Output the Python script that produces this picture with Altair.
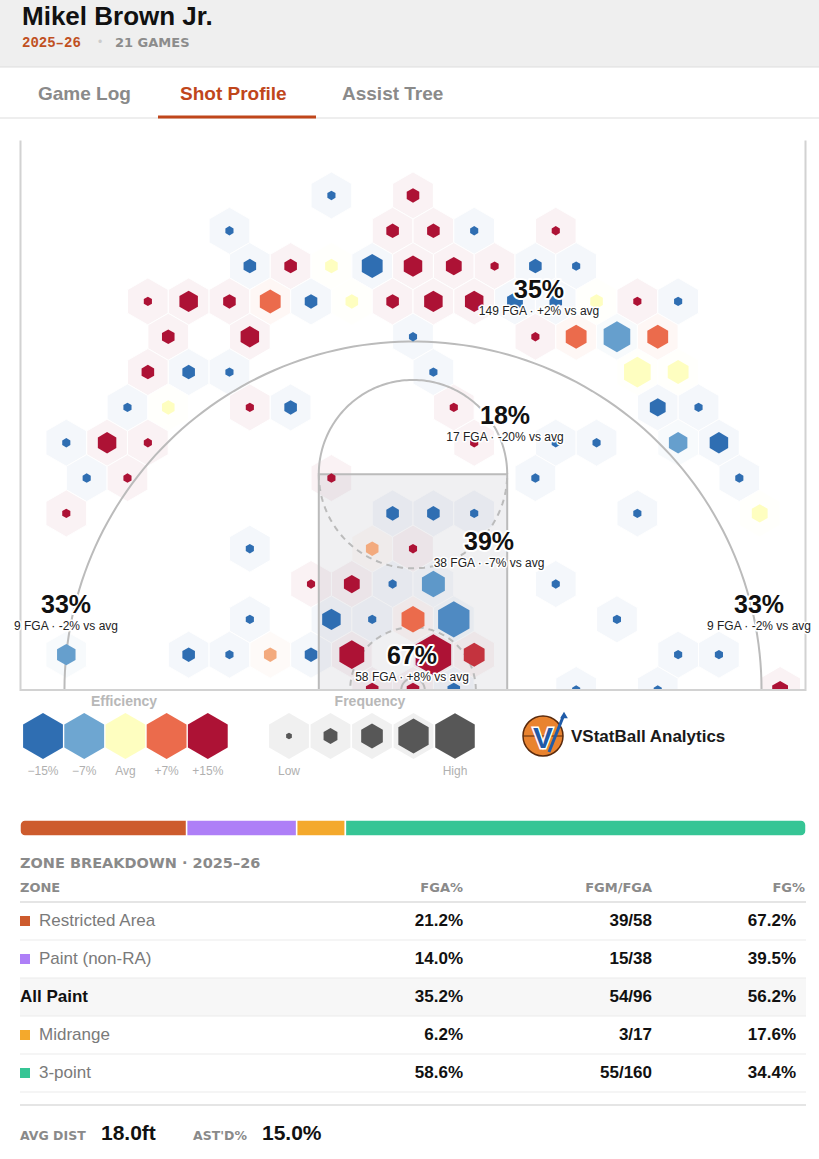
import altair as alt
import numpy as np
import pandas as pd

W, H = 819, 1159
SANS, WIDE, MONO = "Liberation Sans", "DejaVu Sans", "Liberation Mono"

# ---------------- values ----------------
player_name = "Mikel Brown Jr."
season_label = "2025–26"
games_played = 21
tab_labels = ["Game Log", "Shot Profile", "Assist Tree"]
active_tab = "Shot Profile"

# hex bins (1.5 ft hexes, basket at origin): grid row, grid column,
# FG% minus league average (pct points), FGA in the bin
hex_row = [
    14, 14,
    13, 13, 13, 13, 13,
    12, 12, 12, 12, 12, 12, 12, 12, 12,
    11, 11, 11, 11, 11, 11, 11, 11, 11, 11, 11, 11, 11, 11,
    10, 10, 10, 10, 10, 10, 10,
    9, 9, 9, 9, 9, 9,
    8, 8, 8, 8, 8, 8, 8,
    7, 7, 7, 7, 7, 7, 7, 7,
    6, 6, 6, 6, 6,
    5, 5, 5, 5, 5, 5,
    4, 4, 4,
    3, 3, 3, 3, 3,
    2, 2, 2, 2, 2, 2,
    1, 1, 1, 1, 1, 1, 1, 1, 1, 1,
    0, 0, 0, 0, 0, 0]
hex_col = [
    -2, 0,
    -5, -1, 0, 1, 3,
    -4, -3, -2, -1, 0, 1, 2, 3, 4,
    -7, -6, -5, -4, -3, -2, -1, 0, 1, 2, 3, 4, 5, 6,
    -6, -4, 0, 3, 4, 5, 6,
    -7, -6, -5, 0, 5, 6,
    -7, -6, -4, -3, 1, 6, 7,
    -9, -8, -7, 1, 3, 4, 6, 7,
    -8, -7, -2, 3, 8,
    -9, -1, 0, 1, 5, 8,
    -4, -1, 0,
    -3, -2, -1, 0, 3,
    -4, -2, -1, 0, 1, 5,
    -9, -6, -5, -4, -3, -2, 0, 1, 6, 7,
    -1, 0, 1, 4, 6, 9]
hex_eff = [
    -15, 15,
    -15, 15, 15, -15, 15,
    -15, 15, 0, -15, 15, 15, 15, -15, -15,
    15, 15, 15, 7, -15, 0, 15, 15, 15, -15, -15, 0, 15, -15,
    15, 15, -15, 15, 7, -8, 7,
    15, -15, -15, -15, 0, 0,
    -15, 0, 15, -15, 15, -15, -15,
    -15, 15, 15, 15, -15, -15, -8, -15,
    -15, 15, 15, -15, -15,
    15, -15, -15, -15, -15, 0,
    -15, 4, 15,
    15, 15, -15, -9, -15,
    -15, -15, -15, 7, -11, -15,
    -8, -15, -15, 4, -15, 15, 15, 12, -15, -15,
    15, 15, -15, -15, -15, 15]
hex_fga = [
    1, 2,
    1, 2, 2, 1, 1,
    2, 2, 2, 5, 4, 3, 1, 2, 1,
    1, 4, 2, 5, 2, 2, 2, 4, 4, 3, 2, 2, 1, 1,
    2, 4, 1, 1, 5, 8, 5,
    2, 2, 1, 1, 8, 5,
    1, 2, 1, 2, 1, 3, 1,
    1, 4, 1, 1, 1, 1, 4, 4,
    1, 1, 1, 1, 1,
    1, 2, 2, 1, 1, 3,
    1, 2, 1,
    1, 3, 1, 6, 1,
    1, 4, 1, 6, 11, 1,
    4, 2, 1, 2, 2, 7, 14, 5, 1, 1,
    2, 2, 2, 1, 1, 3]
assert len(hex_row) == len(hex_col) == len(hex_eff) == len(hex_fga)

# zone summaries drawn on the court
court_zone = ["Above the Break 3", "Mid-Range", "Paint (non-RA)",
              "Left Corner 3", "Right Corner 3", "Restricted Area"]
court_zone_fgp = [35, 18, 39, 33, 33, 67]
court_zone_fga = [149, 17, 38, 9, 9, 58]
court_zone_diff = [2, -20, -7, -2, -2, 8]

# legend
eff_legend_vals = [-15, -7, 0, 7, 15]
eff_legend_text = ["−15%", "−7%", "Avg", "+7%", "+15%"]
freq_legend_text = ["Low", "", "", "", "High"]

# zone breakdown table
tbl_zone = ["Restricted Area", "Paint (non-RA)", "All Paint", "Midrange", "3-point"]
tbl_kind = ["zone", "zone", "total", "zone", "zone"]
tbl_fga_pct = [21.2, 14.0, 35.2, 6.2, 58.6]
tbl_fgm = [39, 15, 54, 3, 55]
tbl_fga = [58, 38, 96, 17, 160]
tbl_fg_pct = [67.2, 39.5, 56.2, 17.6, 34.4]
avg_dist_ft = 18.0
assisted_pct = 15.0

# ---------------- styles / layout ----------------
EFF_COLORS = ["#2f6eb2", "#6ea6d1", "#fefec0", "#eb6b4c", "#ad1235"]
ZONE_COLORS = ["#cd5b2d", "#ae7ff7", "#f4a92c", "#36c595"]
ACCENT = "#c0461b"
HEX = "M0,-1L0.866,-0.5L0.866,0.5L0,1L-0.866,0.5L-0.866,-0.5Z"
PXFT = 15.7               # pixels per foot on the court drawing
BASKET_PX = (413, 690)    # where the basket sits on the page
HEX_R = 1.5               # ft
THREE_R, FT_Y, FT_R, RA_R, HOOP_R, LANE = 22.2, 13.75, 6.0, 4.0, 0.75, 6.0
freq_legend_r = [3.3, 8.0, 12.5, 17.5, 22.8]
zone_lbl_x = [8.03, 5.86, 4.84, -22.1, 22.04, -0.06]
zone_lbl_y = [25.48, 17.45, 9.43, 5.41, 5.41, 2.17]

court_x = alt.Scale(domain=[-BASKET_PX[0] / PXFT, (W - BASKET_PX[0]) / PXFT], nice=False, zero=False)
court_y = alt.Scale(domain=[-(H - BASKET_PX[1]) / PXFT, BASKET_PX[1] / PXFT], nice=False, zero=False)
eff_scale = alt.Scale(domain=eff_legend_vals, range=EFF_COLORS, interpolate="rgb", clamp=True)
zone_scale = alt.Scale(domain=[z for z, k in zip(tbl_zone, tbl_kind) if k == "zone"], range=ZONE_COLORS)


def xs_lin(px0, step):
    return alt.Scale(domain=[-px0 / step, (W - px0) / step], nice=False, zero=False)


def ys_lin(px0, step):
    return alt.Scale(domain=[-px0 / step, (H - px0) / step], nice=False, zero=False, reverse=True)


def CX(f):
    return alt.X(f, scale=court_x, axis=None)


def CY(f):
    return alt.Y(f, scale=court_y, axis=None)


dummy = pd.DataFrame({"d": [0]})


def txt(s, x, y, size, color, weight="normal", align="left", font=SANS, baseline="alphabetic"):
    return alt.Chart(dummy).mark_text(text=s, align=align, baseline=baseline, fontSize=size,
                                      fontWeight=weight, color=color, font=font).encode(
        x=alt.value(x), y=alt.value(y))


def hline(x0, x1, y, color, w=1):
    return alt.Chart(dummy).mark_rule(color=color, strokeWidth=w).encode(
        x=alt.value(x0), x2=alt.value(x1), y=alt.value(y))


def box(x0, x1, y0, y1, color):
    return alt.Chart(dummy).mark_rect(color=color).encode(
        x=alt.value(x0), x2=alt.value(x1), y=alt.value(y0), y2=alt.value(y1))


layers = []

# ---------------- header & tabs ----------------
layers += [
    box(0, W, 0, 67, "#efefef"),
    hline(0, W, 67, "#dddddd"),
    txt(player_name, 22, 25, 26, "#111111", "bold"),
    txt(season_label, 22, 47, 14, "#c0501f", "bold", font=MONO),
    txt("•", 100, 46, 12, "#cccccc", align="center"),
    txt(f"{games_played} GAMES", 115, 47, 13, "#8c8c8c", "bold", font=WIDE),
    hline(0, W, 118, "#dddddd"),
]
for lbl, tx in zip(tab_labels, [38, 180, 342]):
    layers.append(txt(lbl, tx, 100, 19, ACCENT if lbl == active_tab else "#8a8a8a", "bold"))
layers.append(box(158, 316, 115.5, 118.5, ACCENT))

# ---------------- court ----------------
dxh = np.sqrt(3) * HEX_R
dyh = 1.5 * HEX_R
hexdf = pd.DataFrame({"k": hex_row, "j": hex_col, "eff": hex_eff, "n": hex_fga})
hexdf["x"] = (hexdf["j"] + (hexdf["k"] % 2) * 0.5) * dxh
hexdf["y"] = hexdf["k"] * dyh

layers.append(alt.Chart(hexdf).mark_point(shape=HEX, filled=True, size=4 * 23.5 ** 2, opacity=1,
                                          fillOpacity=0.055, stroke="white", strokeWidth=1).encode(
    x=CX("x:Q"), y=CY("y:Q"), fill=alt.Fill("eff:Q", scale=eff_scale, legend=None)))

paint = pd.DataFrame({"x": [-LANE], "x2": [LANE], "y": [0.0], "y2": [FT_Y]})
layers.append(alt.Chart(paint).mark_rect(color="#7a7a85", opacity=0.11).encode(
    x=CX("x:Q"), x2="x2:Q", y=CY("y:Q"), y2="y2:Q"))


def arc_pts(name, cx0, cy0, r, a0, a1, n=120):
    t = np.radians(np.linspace(a0, a1, n))
    return pd.DataFrame({"g": name, "o": np.arange(n), "x": cx0 + r * np.cos(t), "y": cy0 + r * np.sin(t)})


def poly_pts(name, xs, ys):
    return pd.DataFrame({"g": name, "o": np.arange(len(xs)), "x": xs, "y": ys})


solid = pd.concat([
    arc_pts("three", 0, 0, THREE_R, 0, 180),
    arc_pts("ft_top", 0, FT_Y, FT_R, 0, 180),
    arc_pts("hoop", 0, 0, HOOP_R, 0, 360),
    poly_pts("lane", [-LANE, -LANE, LANE, LANE], [0, FT_Y, FT_Y, 0]),
])
dashed = pd.concat([
    arc_pts("ft_bot", 0, FT_Y, FT_R, 180, 360),
    arc_pts("ra", 0, 0, RA_R, 0, 180),
])
layers.append(alt.Chart(solid).mark_line(color="#bbbbbb", strokeWidth=2).encode(
    x=CX("x:Q"), y=CY("y:Q"), detail="g:N", order="o:Q"))
layers.append(alt.Chart(dashed).mark_line(color="#bbbbbb", strokeWidth=2, strokeDash=[6, 5]).encode(
    x=CX("x:Q"), y=CY("y:Q"), detail="g:N", order="o:Q"))

layers.append(alt.Chart(hexdf).mark_point(shape=HEX, filled=True, opacity=1).encode(
    x=CX("x:Q"), y=CY("y:Q"), fill=alt.Fill("eff:Q", scale=eff_scale, legend=None),
    size=alt.Size("n:Q", scale=alt.Scale(domain=[1, 14], range=[88, 1681]), legend=None)))

# clip everything below the baseline
layers.append(box(0, W, BASKET_PX[1] + 1, 718, "white"))

boundary = poly_pts("court", [-25, -25, 25, 25], [35, 0, 0, 35])
layers.append(alt.Chart(boundary).mark_line(color="#d2d2d2", strokeWidth=2).encode(
    x=CX("x:Q"), y=CY("y:Q"), order="o:Q"))

zdf = pd.DataFrame({"zone": court_zone, "fgp": court_zone_fgp, "fga": court_zone_fga,
                    "diff": court_zone_diff, "lx": zone_lbl_x, "ly": zone_lbl_y})
zbase = alt.Chart(zdf).transform_calculate(
    big="datum.fgp + '%'",
    sub="datum.fga + ' FGA · ' + (datum.diff > 0 ? '+' : '') + datum.diff + '% vs avg'")
zenc = dict(x=CX("lx:Q"), y=CY("ly:Q"))
layers += [
    zbase.mark_text(font=SANS, fontSize=25, fontWeight="bold", color="white", stroke="white",
                    strokeWidth=4, strokeJoin="round", baseline="middle").encode(text="big:N", **zenc),
    zbase.mark_text(font=SANS, fontSize=25, fontWeight="bold", color="#111111",
                    baseline="middle").encode(text="big:N", **zenc),
    zbase.mark_text(font=SANS, fontSize=12, color="white", stroke="white", strokeWidth=3,
                    strokeJoin="round", baseline="middle", dy=21).encode(text="sub:N", **zenc),
    zbase.mark_text(font=SANS, fontSize=12, color="#222222", baseline="middle", dy=21).encode(
        text="sub:N", **zenc),
]

# ---------------- legends ----------------
layers += [
    txt("Efficiency", 124, 706, 14, "#b8b8b8", "bold", align="center"),
    txt("Frequency", 370, 706, 14, "#b8b8b8", "bold", align="center"),
]
edf = pd.DataFrame({"i": range(5), "v": eff_legend_vals, "t": eff_legend_text})
ex = alt.X("i:Q", scale=xs_lin(43, 41.2), axis=None)
layers += [
    alt.Chart(edf).mark_point(shape=HEX, filled=True, size=4 * 23 ** 2, opacity=1).encode(
        x=ex, y=alt.value(736), fill=alt.Fill("v:Q", scale=eff_scale, legend=None)),
    alt.Chart(edf).mark_text(font=SANS, fontSize=12, color="#b0b0b0", baseline="alphabetic").encode(
        x=ex, y=alt.value(775), text="t:N"),
]
fdf = pd.DataFrame({"i": range(5), "t": freq_legend_text, "s": [4 * r * r for r in freq_legend_r]})
fx = alt.X("i:Q", scale=xs_lin(289, 41.5), axis=None)
layers += [
    alt.Chart(fdf).mark_point(shape=HEX, filled=True, size=4 * 23 ** 2, opacity=1, color="#f0f0f0").encode(
        x=fx, y=alt.value(736)),
    alt.Chart(fdf).mark_point(shape=HEX, filled=True, opacity=1, color="#575757").encode(
        x=fx, y=alt.value(736), size=alt.Size("s:Q", scale=None, legend=None)),
    alt.Chart(fdf).mark_text(font=SANS, fontSize=12, color="#b0b0b0", baseline="alphabetic").encode(
        x=fx, y=alt.value(775), text="t:N"),
]

# logo
layers += [
    alt.Chart(dummy).mark_point(shape="circle", filled=True, size=4 * 20 ** 2, opacity=1, fill="#e9832f",
                                stroke="#5a2a0c", strokeWidth=1.5).encode(x=alt.value(543), y=alt.value(736)),
    alt.Chart(dummy).mark_rule(color="#5a2a0c", strokeWidth=1).encode(
        x=alt.value(523), x2=alt.value(563), y=alt.value(736), y2=alt.value(736)),
    alt.Chart(dummy).mark_rule(color="#1f5ba8", strokeWidth=3).encode(
        x=alt.value(549), x2=alt.value(563), y=alt.value(752), y2=alt.value(717)),
    alt.Chart(dummy).mark_point(shape="triangle-up", filled=True, size=60, opacity=1, color="#1f5ba8").encode(
        x=alt.value(564), y=alt.value(715)),
    alt.Chart(dummy).mark_text(text="V", font=SANS, fontSize=30, fontWeight="bold", color="white",
                               stroke="white", strokeWidth=3, baseline="middle").encode(
        x=alt.value(543), y=alt.value(739)),
    alt.Chart(dummy).mark_text(text="V", font=SANS, fontSize=30, fontWeight="bold", color="#1f5ba8",
                               baseline="middle").encode(x=alt.value(543), y=alt.value(739)),
    txt("VStatBall Analytics", 571, 742, 17, "#1a1a1a", "bold"),
]

# ---------------- zone share bar ----------------
tdf = pd.DataFrame({"i": range(len(tbl_zone)), "zone": tbl_zone, "kind": tbl_kind,
                    "fga_pct": tbl_fga_pct, "fgm": tbl_fgm, "fga": tbl_fga, "fg_pct": tbl_fg_pct})
bbase = alt.Chart(tdf).transform_filter("datum.kind == 'zone'").transform_window(
    cum="sum(fga_pct)", sort=[alt.SortField("i")], frame=[None, 0]).transform_window(
    rank="row_number()", sort=[alt.SortField("i")]).transform_calculate(start="datum.cum - datum.fga_pct")
bx = alt.X("start:Q", scale=xs_lin(20, 7.86), axis=None)
benc = dict(x=bx, x2="cum:Q", y=alt.value(820), y2=alt.value(836),
            color=alt.Color("zone:N", scale=zone_scale, legend=None))
layers += [
    bbase.transform_filter("datum.rank == 1").mark_rect(
        cornerRadiusTopLeft=5, cornerRadiusBottomLeft=5, stroke="white", strokeWidth=1.5).encode(**benc),
    bbase.transform_filter("datum.rank > 1 && datum.rank < 4").mark_rect(
        stroke="white", strokeWidth=1.5).encode(**benc),
    bbase.transform_filter("datum.rank == 4").mark_rect(
        cornerRadiusTopRight=5, cornerRadiusBottomRight=5, stroke="white", strokeWidth=1.5).encode(**benc),
]

# ---------------- table ----------------
layers += [
    txt("ZONE BREAKDOWN · 2025–26", 20, 868, 14.5, "#8a8a8a", "bold", font=WIDE),
    txt("ZONE", 20, 892, 13, "#8a8a8a", "bold", font=WIDE),
    txt("FGA%", 463, 892, 13, "#8a8a8a", "bold", align="right", font=WIDE),
    txt("FGM/FGA", 652, 892, 13, "#8a8a8a", "bold", align="right", font=WIDE),
    txt("FG%", 805, 892, 13, "#8a8a8a", "bold", align="right", font=WIDE),
]
tys = ys_lin(921, 38)
tbase = alt.Chart(tdf).transform_calculate(
    t_fgapct="format(datum.fga_pct, '.1f') + '%'",
    t_made="datum.fgm + '/' + datum.fga",
    t_fgpct="format(datum.fg_pct, '.1f') + '%'",
    top="datum.i - 0.5", bot="datum.i + 0.5")
ty = alt.Y("i:Q", scale=tys, axis=None)
layers += [
    tbase.transform_filter("datum.kind == 'total'").mark_rect(color="#f7f7f7").encode(
        x=alt.value(20), x2=alt.value(806), y=alt.Y("top:Q", scale=tys, axis=None), y2="bot:Q"),
    tbase.mark_rule(color="#ebebeb", strokeWidth=1).encode(
        x=alt.value(20), x2=alt.value(806), y=alt.Y("bot:Q", scale=tys, axis=None)),
    hline(20, 806, 902, "#dddddd", 1.5),
    tbase.transform_filter("datum.kind == 'zone'").mark_point(shape="square", filled=True, size=100,
                                                              opacity=1).encode(
        x=alt.value(25), y=ty, color=alt.Color("zone:N", scale=zone_scale, legend=None)),
    tbase.transform_filter("datum.kind == 'zone'").mark_text(
        font=SANS, fontSize=17, color="#7a7a7a", align="left", baseline="middle").encode(
        x=alt.value(39), y=ty, text="zone:N"),
    tbase.transform_filter("datum.kind == 'total'").mark_text(
        font=SANS, fontSize=17, fontWeight="bold", color="#111111", align="left", baseline="middle").encode(
        x=alt.value(20), y=ty, text="zone:N"),
]
for field, xr in [("t_fgapct", 463), ("t_made", 652), ("t_fgpct", 796)]:
    layers.append(tbase.mark_text(font=SANS, fontSize=17, fontWeight="bold", color="#111111",
                                  align="right", baseline="middle").encode(
        x=alt.value(xr), y=ty, text=f"{field}:N"))

# ---------------- footer ----------------
layers += [
    hline(20, 806, 1105, "#dddddd", 1.5),
    txt("AVG DIST", 20, 1140, 12.5, "#8a8a8a", "bold", font=WIDE),
    txt(f"{avg_dist_ft:.1f}ft", 101, 1140, 21, "#111111", "bold"),
    txt("AST'D%", 193, 1140, 12.5, "#8a8a8a", "bold", font=WIDE),
    txt(f"{assisted_pct:.1f}%", 262, 1140, 21, "#111111", "bold"),
]

chart = alt.layer(*layers).resolve_scale(
    x="independent", y="independent", color="independent", fill="independent", size="independent"
).properties(
    width=W, height=H, padding=0, autosize=alt.AutoSizeParams(type="none"), background="white"
).configure_view(stroke=None)

chart.save("out.html", embed_options={"renderer": "svg", "actions": False})
